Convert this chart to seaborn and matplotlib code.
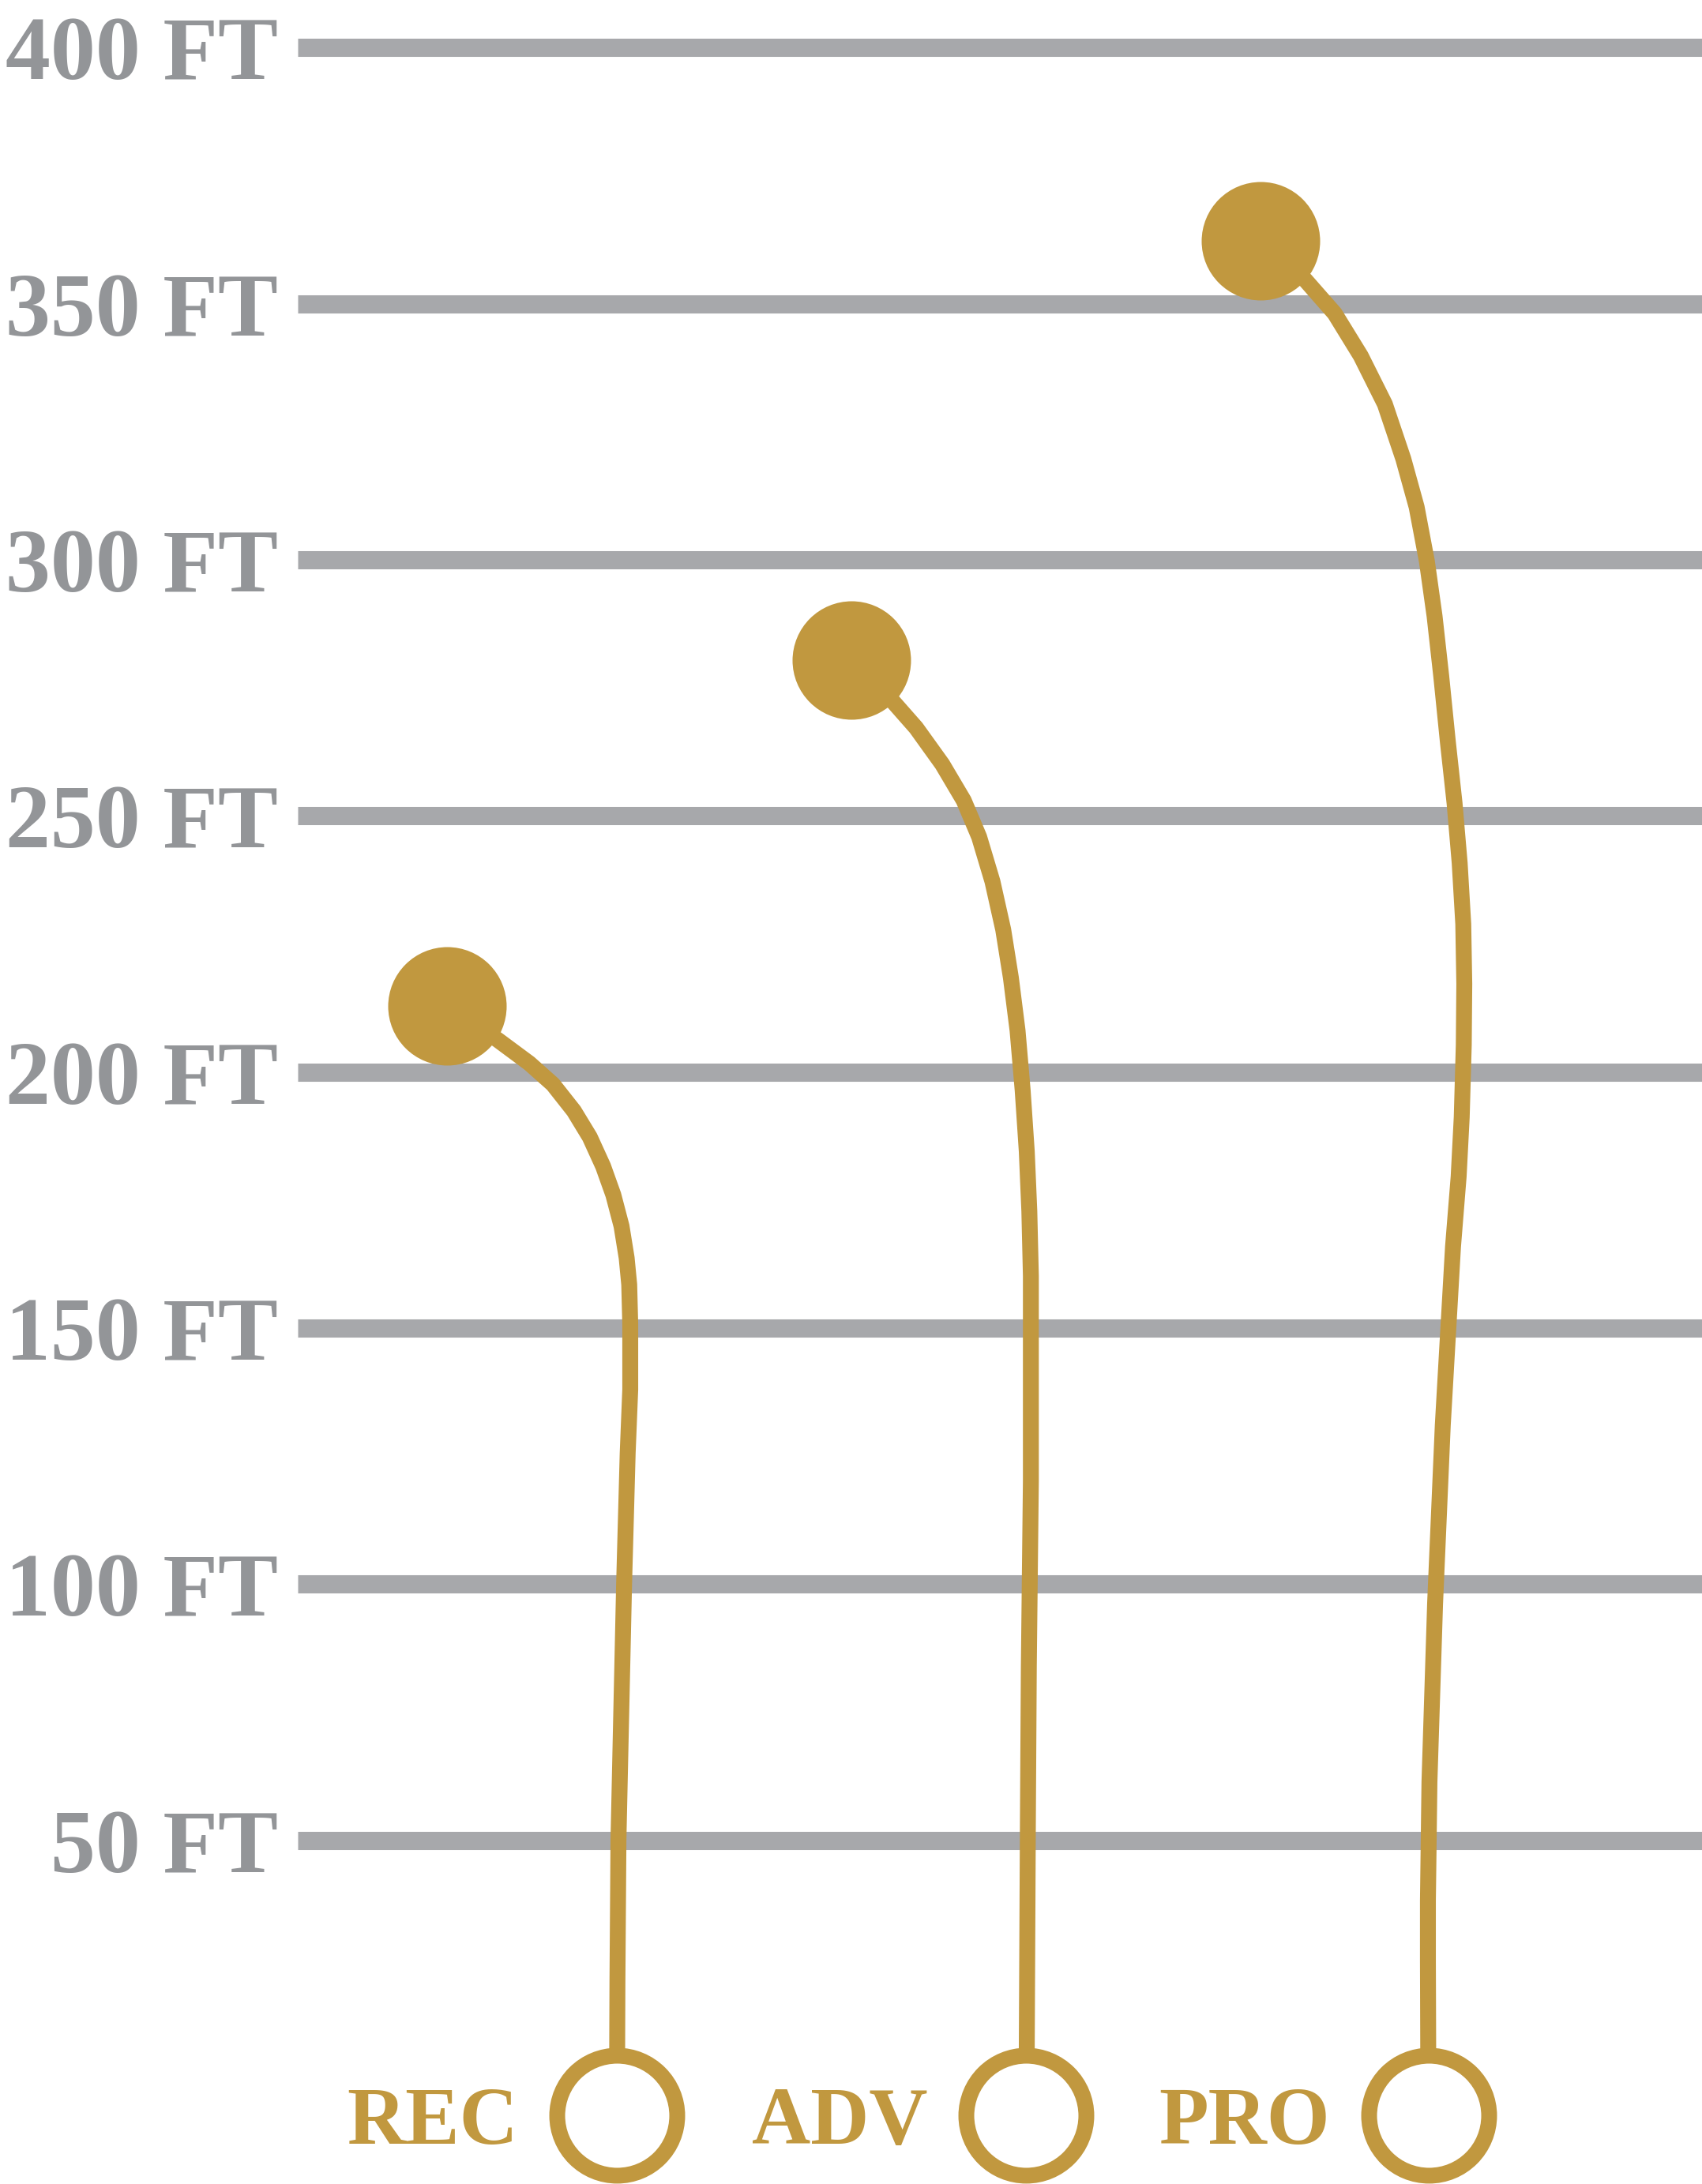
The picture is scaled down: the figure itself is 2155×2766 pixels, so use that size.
import numpy as np
import pandas as pd
import matplotlib.pyplot as plt
import seaborn as sns

# Flight paths (lateral ft, distance ft), from landing spot back to tee
levels = ["REC", "ADV", "PRO"]
rec_x = [29.2, 39.0, 45.2, 49.8, 53.9, 57.0, 59.6, 61.6, 63.2, 64.2, 64.7, 64.9, 64.9,
         64.4, 63.7, 63.2, 62.6, 62.4, 62.3]
rec_y = [212.9, 206.3, 201.7, 197.6, 192.4, 187.3, 181.6, 176.0, 169.9, 163.7, 158.5, 150.8, 138.0,
         125.6, 100.0, 77.4, 50.1, 22.4, -3.7]
adv_x = [108.0, 116.3, 120.7, 125.8, 130.0, 133.0, 135.6, 137.7, 139.2, 140.5, 141.5, 142.3, 142.8,
         143.1, 143.1, 142.7, 142.5, 142.3, 142.2]
adv_y = [280.4, 272.2, 267.2, 260.1, 253.0, 245.9, 237.2, 227.8, 218.4, 208.1, 196.4, 184.5, 172.8,
         160.2, 120.1, 83.9, 50.4, 9.7, -3.7]
pro_x = [187.9, 196.7, 202.4, 207.5, 212.2, 215.8, 218.4, 220.4, 221.9, 223.2, 224.5, 225.8, 226.8,
         227.5, 227.7, 227.6, 227.2, 226.6, 225.5, 223.5, 222.0, 220.9, 220.6, 220.6, 220.7]
pro_y = [362.3, 354.6, 348.1, 339.8, 330.4, 319.7, 310.3, 299.7, 289.0, 277.3, 264.4, 252.5, 240.8,
         228.9, 217.2, 205.3, 191.2, 179.6, 165.9, 131.0, 96.2, 61.4, 38.2, 26.7, -3.7]

# Distance gridlines
ticks = [50, 100, 150, 200, 250, 300, 350, 400]
tick_labels = ["50 FT", "100 FT", "150 FT", "200 FT", "250 FT", "300 FT", "350 FT", "400 FT"]

gold = "#c1983f"
grey_text = "#939598"
grey_line = "#a7a8ab"

# long form table for seaborn
frames = []
for name, xs, ys in zip(levels, [rec_x, adv_x, pro_x], [rec_y, adv_y, pro_y]):
    frames.append(pd.DataFrame({"level": name, "x": xs, "y": ys, "step": range(len(xs))}))
paths = pd.concat(frames, ignore_index=True)
landing = paths.groupby("level", sort=False).first().reset_index()
tee = paths.groupby("level", sort=False).last().reset_index()

sns.set_style("white")
plt.rcParams["lines.solid_capstyle"] = "butt"
plt.rcParams["font.family"] = ["Liberation Serif", "DejaVu Serif"]

fig = plt.figure(figsize=(21.55, 27.66), dpi=100)
ax = fig.add_axes([377 / 2155, 0, 1 - 377 / 2155, 1])

# flight lines, one per level
for name in levels:
    sns.lineplot(data=paths[paths["level"] == name], x="x", y="y", estimator=None, sort=False,
                 color=gold, lw=14.5, ax=ax, legend=False, zorder=2)
plt.setp(ax.get_lines(), solid_capstyle="round", solid_joinstyle="round")

# landing spots
sns.scatterplot(data=landing, x="x", y="y", color=gold, s=108 ** 2,
                linewidth=0, ax=ax, legend=False, zorder=3)

# tee circles
sns.scatterplot(data=tee, x="x", y="y", facecolor="white", edgecolor=gold, s=109.4 ** 2,
                linewidth=14.4, ax=ax, legend=False, zorder=3)

for _, row in tee.iterrows():
    ax.annotate(row["level"], xy=(row["x"], row["y"]), xytext=(-90, 0),
                textcoords="offset points", ha="right", va="center_baseline",
                fontsize=74, fontweight="bold", color=gold)

ax.set_xlim(0, 274.1)
ax.set_ylim(-17.11, 409.3)
ax.set_yticks(ticks)
ax.set_yticklabels(tick_labels, fontsize=82, fontweight="bold", color=grey_text)
ax.set_xticks([])
ax.tick_params(axis="y", length=0, pad=18)
ax.grid(axis="y", color=grey_line, linewidth=16.6)
ax.set_axisbelow(True)
ax.set_xlabel("")
ax.set_ylabel("")
for s in ax.spines.values():
    s.set_visible(False)

fig.savefig("out.png", dpi=100)
